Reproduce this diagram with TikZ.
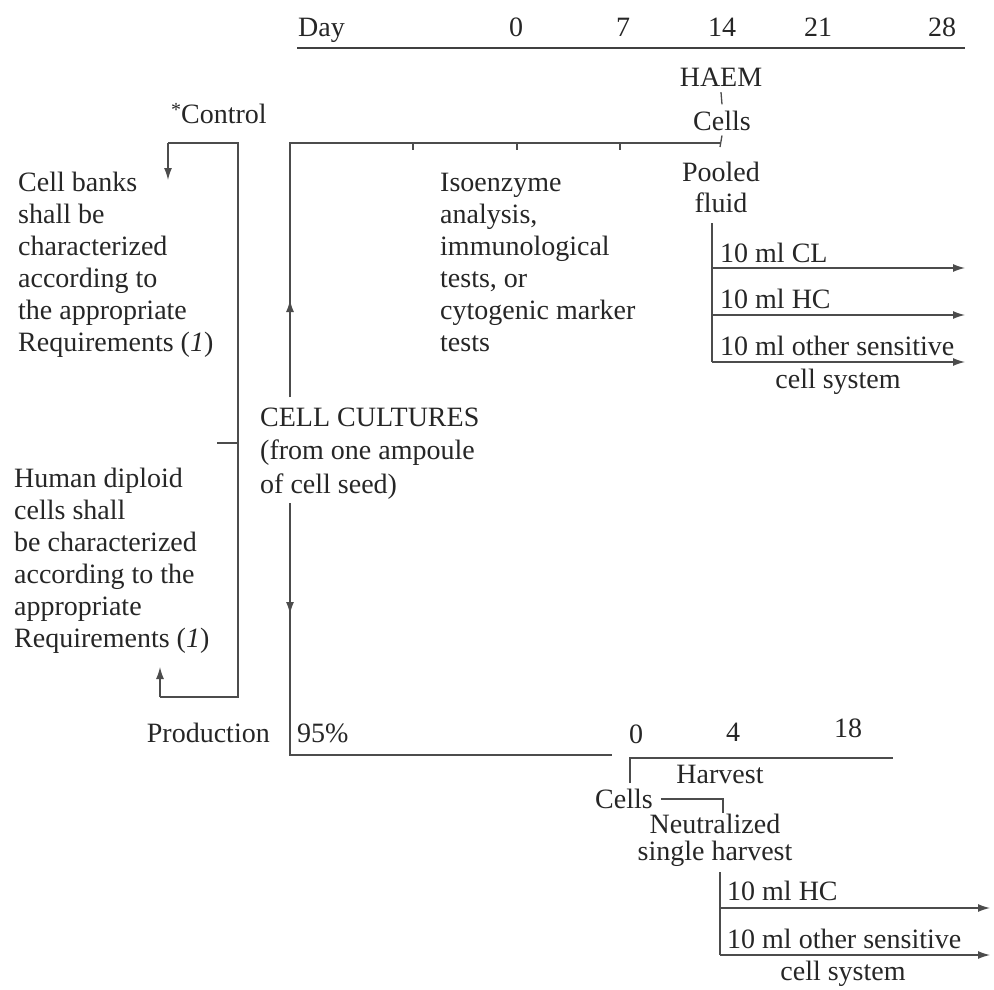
\documentclass[tikz,border=0pt]{standalone}
\usepackage{fontspec}
\setmainfont{Liberation Serif}
\usetikzlibrary{arrows.meta}
\begin{document}
\begin{tikzpicture}[x=1pt,y=-1pt,
  txt/.style={inner sep=0pt, font=\fontsize{28}{32}\selectfont, text=black!85},
  ln/.style={line width=1.3pt, draw=black!70},
  thickln/.style={line width=2.8pt, draw=black!75},
  medln/.style={line width=2pt, draw=black!70},
  arr/.style={ln, -{Latex[length=12pt,width=8pt]}},
]
\useasboundingbox (0,0) rectangle (994,990);

% top time scale
\node[txt,anchor=base west] (day) at (298,37) {Day};
\node[txt,anchor=base] (d0) at (516,37) {0};
\node[txt,anchor=base] (d7) at (623,37) {7};
\node[txt,anchor=base] (d14) at (722,37) {14};
\node[txt,anchor=base] (d21) at (818,37) {21};
\node[txt,anchor=base] (d28) at (942,37) {28};
\coordinate (tl0) at (297,48);
\coordinate (tl1) at (965,48);
\draw[thickln] (tl0) -- (tl1);

% HAEM / Cells
\node[txt,anchor=base] (haem) at (721,87) {HAEM};
\node[txt,anchor=base] (cells) at (722,131) {Cells};
\draw[ln] ([yshift=-5pt]haem.south) -- ([yshift=7pt]cells.north);

% box line from cell cultures
\coordinate (bxL) at (290,143);
\coordinate (bxR) at (720,143);
\coordinate (ccup) at (290,397);
\coordinate (ccdn) at (290,503);
\draw[ln] (ccup) -- (bxL) -- (bxR);
\draw[ln] ([yshift=-4pt]cells.south) -- ([yshift=-4pt]bxR);
\foreach \x in {413,517,620} \draw[ln] (\x,143) -- (\x,150);
\draw[arr] (ccup) -- (290,300);

% Isoenzyme text (anchor = baseline of last line)
\node[txt,anchor=base west,align=left] (iso) at (440,351)
  {Isoenzyme\\analysis,\\immunological\\tests, or\\cytogenic marker\\tests};

% Pooled fluid and branches
\node[txt,anchor=base,align=center,font=\fontsize{28}{31}\selectfont] (pool) at (721,212) {Pooled\\fluid};
\coordinate (brTop) at (712,223);
\coordinate (brA) at (712,268);
\coordinate (brB) at (712,315);
\coordinate (brC) at (712,362);
\coordinate (brAe) at (965,268);
\coordinate (brBe) at (965,315);
\coordinate (brCe) at (965,362);
\draw[ln] (brTop) -- (brC);
\draw[arr] (brA) -- (brAe);
\draw[arr] (brB) -- (brBe);
\draw[arr] (brC) -- (brCe);
\node[txt,anchor=base west] (cl) at (720,262) {10 ml CL};
\node[txt,anchor=base west] (hc) at (720,308) {10 ml HC};
\node[txt,anchor=base west] (oth) at (720,355) {10 ml other sensitive};
\node[txt,anchor=base] (cs) at (838,388) {cell system};

% left texts
\node[txt,anchor=base west] (ctrl) at (171,124) {\raisebox{7pt}{\fontsize{20}{20}\selectfont *}Control};
\node[txt,anchor=base west,align=left] (banks) at (18,351)
  {Cell banks\\shall be\\characterized\\according to\\the appropriate\\Requirements (\textit{1})};
\node[txt,anchor=base west,align=left] (human) at (14,647)
  {Human diploid\\cells shall\\be characterized\\according to the\\appropriate\\Requirements (\textit{1})};

% control bracket
\coordinate (cbT) at (238,143);
\coordinate (cbB) at (238,697);
\coordinate (cbTL) at (168,143);
\coordinate (cbBL) at (160,697);
\coordinate (cbM) at (238,443);
\coordinate (cbMt) at (217,443);
\draw[ln] (cbBL) -- (cbB) -- (cbT) -- (cbTL);
\draw[ln] (cbMt) -- (cbM);
\draw[arr] (cbTL) -- (168,180);
\draw[arr] (cbBL) -- (160,667);

% cell cultures
\node[txt,anchor=base west,align=left,font=\fontsize{28}{33.5}\selectfont] (cc) at (260,493)
  {CELL CULTURES\\(from one ampoule\\of cell seed)};

% production line
\coordinate (pc) at (290,755);
\coordinate (pe) at (612,755);
\draw[ln] (ccdn) -- (pc) -- (pe);
\draw[arr] (ccdn) -- (290,614);
\node[txt,anchor=base east] (prod) at (270,742) {Production};
\node[txt,anchor=base west] (p95) at (297,742) {95\%};

% second time scale
\node[txt,anchor=base] (e0) at (636,743) {0};
\node[txt,anchor=base] (e4) at (733,741) {4};
\node[txt,anchor=base] (e18) at (848,737) {18};
\coordinate (hv0) at (630,783);
\coordinate (hv1) at (630,758);
\coordinate (hv2) at (893,758);
\draw[medln] (hv0) -- (hv1) -- (hv2);
\node[txt,anchor=base] (harv) at (720,783) {Harvest};
\node[txt,anchor=base west] (cells2) at (595,808) {Cells};
\coordinate (nsA) at (723,799);
\coordinate (nsB) at (723,813);
\draw[ln] ([xshift=8pt]cells2.east |- nsA) -- (nsA) -- (nsB);
\node[txt,anchor=base,align=center,font=\fontsize{28}{27}\selectfont] (neut) at (715,860) {Neutralized\\single harvest};

% bottom branches
\coordinate (bbTop) at (720,872);
\coordinate (bbA) at (720,908);
\coordinate (bbB) at (720,955);
\coordinate (bbAe) at (990,908);
\coordinate (bbBe) at (990,955);
\draw[ln] (bbTop) -- (bbB);
\draw[arr] (bbA) -- (bbAe);
\draw[arr] (bbB) -- (bbBe);
\node[txt,anchor=base west] (hc2) at (727,900) {10 ml HC};
\node[txt,anchor=base west] (oth2) at (727,948) {10 ml other sensitive};
\node[txt,anchor=base] (cs2) at (843,980) {cell system};
\end{tikzpicture}
\end{document}
